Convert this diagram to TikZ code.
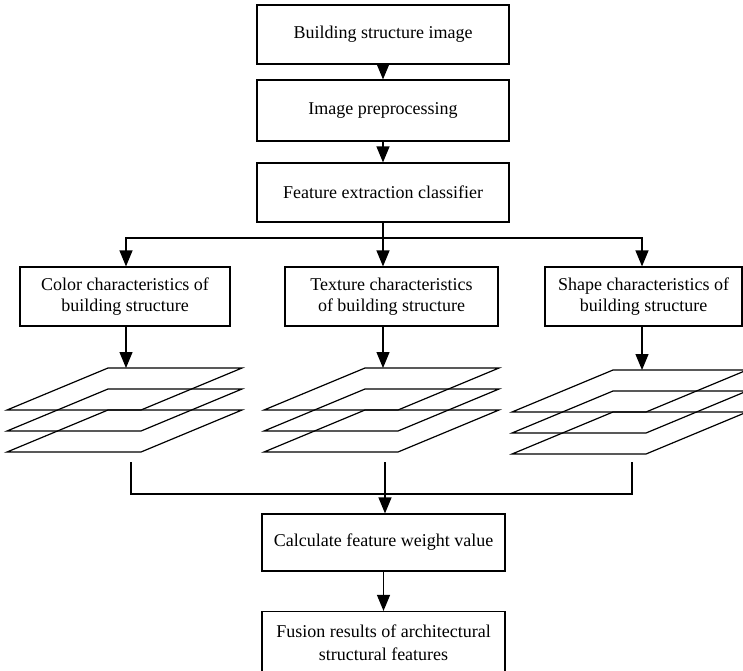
\documentclass[tikz,border=0pt]{standalone}
\usepackage{fontspec}
\setmainfont{Liberation Serif}
\usetikzlibrary{arrows.meta}

\begin{document}
\begin{tikzpicture}[x=0.5pt, y=-0.5pt, line width=0.6pt,
    box/.style={draw, inner sep=0pt, align=center, font=\fontsize{9}{10.5}\selectfont},
    arr/.style={-{Triangle[length=8pt, width=6.5pt]}}]
    \useasboundingbox (0,0) rectangle (743,670);

    \node[box, minimum width=126pt, minimum height=29.5pt] at (383,34.5) (img) {Building structure image};
    \node[box, minimum width=126pt, minimum height=30.5pt] at (383,110.5) (pre) {Image preprocessing};
    \node[box, minimum width=126pt, minimum height=29.5pt] at (383,192.5) (fec) {Feature extraction classifier};

    \node[box, minimum width=105pt, minimum height=29.5pt] at (125,296.5) (color) {Color characteristics of\\building structure};
    \node[box, minimum width=106.5pt, minimum height=29.5pt] at (391.5,296.5) (texture) {Texture characteristics\\of building structure};
    \node[box, minimum width=98.5pt, minimum height=29.5pt] at (643.5,296.5) (shape) {Shape characteristics of\\building structure};

    \node[box, minimum width=121.5pt, minimum height=28.5pt] at (383.5,542.5) (calc) {Calculate feature weight value};
    \node[box, minimum width=121.5pt, minimum height=31pt] at (383.5,642.5) (fusion) {Fusion results of architectural\\[1pt]structural features};

    \coordinate (split) at (383,238);
    \coordinate (ctop) at (126,368);
    \coordinate (ttop) at (383,368);
    \coordinate (stop) at (642,370);
    \coordinate (cbot) at (131,462);
    \coordinate (tbot) at (385,462);
    \coordinate (sbot) at (632,462);
    \coordinate (join) at (385,494);

    \draw[arr] (img) -- (pre);
    \draw[arr] (pre) -- (fec);
    \draw (fec) -- (split);
    \draw[arr] (split) -| (ctop |- color.north);
    \draw[arr] (split) -- (split |- texture.north);
    \draw[arr] (split) -| (stop |- shape.north);

    \draw[arr] (ctop |- color.south) -- (ctop);
    \draw[arr] (ttop |- texture.south) -- (ttop);
    \draw[arr] (stop |- shape.south) -- (stop);

    \draw (7,410) -- ++(101,-42) -- ++(134,0) -- ++(-101,42) -- cycle;
    \draw (7,431) -- ++(101,-42) -- ++(134,0) -- ++(-101,42) -- cycle;
    \draw (7,452) -- ++(101,-42) -- ++(134,0) -- ++(-101,42) -- cycle;

    \draw (264,410) -- ++(101,-42) -- ++(134,0) -- ++(-101,42) -- cycle;
    \draw (264,431) -- ++(101,-42) -- ++(134,0) -- ++(-101,42) -- cycle;
    \draw (264,452) -- ++(101,-42) -- ++(134,0) -- ++(-101,42) -- cycle;

    \draw (512,412) -- ++(101,-42) -- ++(134,0) -- ++(-101,42) -- cycle;
    \draw (512,433) -- ++(101,-42) -- ++(134,0) -- ++(-101,42) -- cycle;
    \draw (512,454) -- ++(101,-42) -- ++(134,0) -- ++(-101,42) -- cycle;

    \draw (cbot) |- (sbot |- join) -- (sbot);
    \draw[arr] (tbot) -- (tbot |- calc.north);
    \draw[arr] (calc) -- (fusion);
\end{tikzpicture}
\end{document}
